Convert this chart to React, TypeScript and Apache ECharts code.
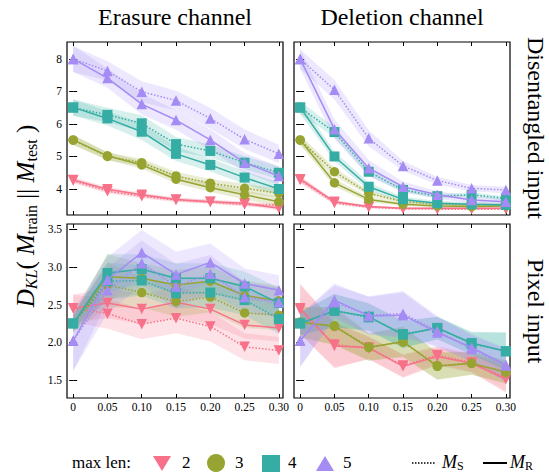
import React, { useEffect, useRef } from 'react';
import * as echarts from 'echarts';

// ---------- data ----------
const X = [0, 0.05, 0.1, 0.15, 0.2, 0.25, 0.3];
const MAX_LENS = ['2', '3', '4', '5'];
const COLORS = ['#f77189', '#97a431', '#36ada4', '#a48cf4'];
const TOP_TICKS = [4, 5, 6, 7, 8];
const BOTTOM_TICKS = [1.5, 2.0, 2.5, 3.0, 3.5];

// Erasure channel, disentangled input  (rows: max len 2,3,4,5)
const eraDisR = [
  [4.28, 3.99, 3.82, 3.68, 3.61, 3.56, 3.41],
  [5.51, 5.02, 4.74, 4.30, 4.04, 3.82, 3.61],
  [6.51, 6.17, 5.76, 5.08, 4.74, 4.35, 4.00],
  [8.0, 7.41, 6.61, 6.12, 5.51, 4.81, 4.40],
];
const eraDisS = [
  [4.26, 3.93, 3.78, 3.66, 3.60, 3.52, 3.50],
  [5.50, 5.00, 4.81, 4.40, 4.18, 4.02, 3.87],
  [6.50, 6.28, 6.02, 5.38, 5.17, 4.81, 4.50],
  [8.0, 7.63, 6.99, 6.72, 6.17, 5.53, 5.08],
];
const eraDisCI = [
  [0.08, 0.07, 0.07, 0.06, 0.06, 0.06, 0.07],
  [0.15, 0.12, 0.12, 0.13, 0.13, 0.14, 0.14],
  [0.25, 0.22, 0.25, 0.22, 0.2, 0.2, 0.2],
  [0.4, 0.3, 0.32, 0.3, 0.32, 0.3, 0.28],
];

// Deletion channel, disentangled input
const delDisR = [
  [4.30, 3.61, 3.46, 3.41, 3.41, 3.41, 3.41],
  [5.51, 4.19, 3.68, 3.53, 3.48, 3.46, 3.48],
  [6.51, 5.00, 4.07, 3.68, 3.56, 3.53, 3.51],
  [8.0, 5.84, 4.64, 4.07, 3.82, 3.66, 3.61],
];
const delDisS = [
  [4.28, 3.57, 3.44, 3.39, 3.38, 3.38, 3.38],
  [5.50, 4.53, 3.87, 3.61, 3.54, 3.51, 3.51],
  [6.50, 5.75, 4.53, 3.97, 3.78, 3.82, 3.71],
  [8.0, 7.05, 5.56, 4.71, 4.26, 4.02, 3.97],
];
const delDisCI = [
  [0.1, 0.05, 0.04, 0.03, 0.03, 0.03, 0.03],
  [0.15, 0.12, 0.08, 0.05, 0.05, 0.05, 0.05],
  [0.2, 0.15, 0.12, 0.08, 0.07, 0.07, 0.07],
  [0.3, 0.3, 0.25, 0.15, 0.12, 0.1, 0.1],
];

// Erasure channel, pixel input
const eraPixR = [
  [2.45, 2.52, 2.44, 2.53, 2.44, 2.23, 2.19],
  [2.25, 2.87, 2.85, 2.76, 2.81, 2.62, 2.55],
  [2.25, 2.92, 2.97, 2.85, 2.85, 2.74, 2.52],
  [2.02, 2.83, 3.19, 2.90, 3.06, 2.78, 2.69],
];
const eraPixS = [
  [2.45, 2.38, 2.24, 2.32, 2.21, 1.94, 1.89],
  [2.25, 2.76, 2.66, 2.54, 2.60, 2.39, 2.36],
  [2.25, 2.81, 2.82, 2.65, 2.66, 2.56, 2.31],
  [2.02, 2.69, 3.05, 2.74, 2.91, 2.60, 2.53],
];
const eraPixCI = [
  [0.18, 0.2, 0.2, 0.2, 0.2, 0.18, 0.18],
  [0.12, 0.3, 0.2, 0.2, 0.2, 0.2, 0.2],
  [0.1, 0.25, 0.2, 0.2, 0.2, 0.2, 0.2],
  [0.4, 0.3, 0.3, 0.3, 0.25, 0.2, 0.2],
];

// Deletion channel, pixel input
const delPixR = [
  [2.45, 1.95, 1.93, 1.68, 1.81, 1.72, 1.51],
  [2.27, 2.21, 1.93, 2.01, 1.68, 1.72, 1.60],
  [2.25, 2.42, 2.34, 2.10, 2.19, 1.99, 1.88],
  [2.02, 2.56, 2.35, 2.36, 2.13, 1.93, 1.70],
];
const delPixS = [
  [2.43, 1.97, 1.92, 1.69, 1.83, 1.73, 1.53],
  [2.26, 2.22, 1.94, 2.0, 1.69, 1.72, 1.61],
  [2.25, 2.42, 2.33, 2.11, 2.19, 1.98, 1.88],
  [2.02, 2.53, 2.36, 2.38, 2.15, 1.91, 1.69],
];
const delPixCI = [
  [0.33, 0.3, 0.15, 0.15, 0.12, 0.12, 0.18],
  [0.2, 0.25, 0.18, 0.2, 0.18, 0.15, 0.15],
  [0.15, 0.22, 0.18, 0.18, 0.15, 0.15, 0.25],
  [0.35, 0.22, 0.25, 0.3, 0.2, 0.18, 0.22],
];

// ---------- helpers ----------
const FONT = '"Liberation Serif", "DejaVu Serif", serif';

function rgba(hex: string, a: number) {
  const n = parseInt(hex.slice(1), 16);
  return `rgba(${(n >> 16) & 255},${(n >> 8) & 255},${n & 255},${a})`;
}

const SYMBOLS = [
  { symbol: 'triangle', size: 10.5, rotate: 180 },
  { symbol: 'circle', size: 9.5, rotate: 0 },
  { symbol: 'rect', size: 10, rotate: 0 },
  { symbol: 'triangle', size: 10.5, rotate: 0 },
];

function bandSeries(gi: number, mean: number[], ci: number[], color: string) {
  const data = X.map((x, i) => [x, mean[i] - ci[i], mean[i] + ci[i]]);
  return {
    type: 'custom',
    xAxisIndex: gi,
    yAxisIndex: gi,
    silent: true,
    z: 1,
    data,
    encode: { x: 0, y: [1, 2] },
    renderItem: (params: any, api: any) => {
      if (params.dataIndex !== 0) return null;
      const up = data.map((d) => api.coord([d[0], d[2]]));
      const dn = data
        .slice()
        .reverse()
        .map((d) => api.coord([d[0], d[1]]));
      return {
        type: 'polygon',
        shape: { points: up.concat(dn) },
        style: { fill: rgba(color, 0.2), stroke: 'none' },
      };
    },
  };
}

function lineSeries(gi: number, vals: number[], k: number, dotted: boolean) {
  const s = SYMBOLS[k];
  return {
    type: 'line',
    xAxisIndex: gi,
    yAxisIndex: gi,
    silent: true,
    z: 3 + k,
    data: X.map((x, i) => [x, vals[i]]),
    symbol: s.symbol,
    symbolSize: s.size,
    symbolRotate: s.rotate,
    showSymbol: true,
    itemStyle: { color: COLORS[k], opacity: 1 },
    lineStyle: {
      color: COLORS[k],
      width: 1.5,
      type: dotted ? [1.5, 1.8] : 'solid',
    },
  };
}

const PANELS = [
  { R: eraDisR, S: eraDisS, CI: eraDisCI },
  { R: delDisR, S: delDisS, CI: delDisCI },
  { R: eraPixR, S: eraPixS, CI: eraPixCI },
  { R: delPixR, S: delPixS, CI: delPixCI },
];

const GRIDS = [
  { left: 67, top: 42, width: 216, height: 173 },
  { left: 294, top: 42, width: 216, height: 173 },
  { left: 67, top: 224, width: 216, height: 174 },
  { left: 294, top: 224, width: 216, height: 174 },
];

function buildOption() {
  const xMain: any[] = [];
  const xTop: any[] = [];
  const yMain: any[] = [];
  const yRight: any[] = [];
  for (let gi = 0; gi < 4; gi++) {
    const isBottom = gi >= 2;
    const xBase = {
      type: 'value',
      gridIndex: gi,
      min: -0.009,
      max: 0.306,
      splitLine: { show: false },
      axisLine: { show: false },
      axisTick: {
        show: true,
        inside: true,
        length: 4,
        customValues: X,
        lineStyle: { color: '#000', width: 1 },
      },
    };
    xMain.push({
      ...xBase,
      position: 'bottom',
      axisLabel: {
        show: isBottom,
        customValues: X,
        formatter: (v: number) => (v === 0 ? '0' : v.toFixed(2)),
        fontFamily: FONT,
        fontSize: 11.5,
        color: '#000',
        margin: 3,
      },
    });
    xTop.push({ ...xBase, position: 'top', axisLabel: { show: false } });

    const ticks = isBottom ? BOTTOM_TICKS : TOP_TICKS;
    const yBase = {
      type: 'value',
      gridIndex: gi,
      min: isBottom ? 1.26 : 3.2,
      max: isBottom ? 3.57 : 8.52,
      splitLine: { show: false },
      axisLine: { show: false },
      axisTick: {
        show: true,
        inside: true,
        length: 4,
        customValues: ticks,
        lineStyle: { color: '#000', width: 1 },
      },
    };
    yMain.push({
      ...yBase,
      position: 'left',
      axisLabel: {
        show: gi % 2 === 0,
        customValues: ticks,
        formatter: (v: number) => (isBottom ? v.toFixed(1) : String(v)),
        fontFamily: FONT,
        fontSize: 11.5,
        color: '#000',
        margin: 5,
      },
    });
    yRight.push({ ...yBase, position: 'right', axisLabel: { show: false } });
  }

  const series: any[] = [];
  PANELS.forEach((p, gi) => {
    for (let k = 0; k < 4; k++) {
      series.push(bandSeries(gi, p.S[k], p.CI[k], COLORS[k]));
      series.push(bandSeries(gi, p.R[k], p.CI[k], COLORS[k]));
    }
    for (let k = 0; k < 4; k++) {
      series.push(lineSeries(gi, p.S[k], k, true));
      series.push(lineSeries(gi, p.R[k], k, false));
    }
  });

  const bigText = (text: string, x: number, y: number, rotation = 0) => ({
    type: 'text',
    x,
    y,
    rotation,
    silent: true,
    style: {
      text,
      x: 0,
      y: 0,
      align: 'center',
      verticalAlign: 'middle',
      fontFamily: FONT,
      fontSize: 24,
      fill: '#000',
    },
  });

  const legendY = 462;
  const legText = (text: string, x: number) => ({
    type: 'text',
    x,
    y: legendY,
    silent: true,
    style: {
      text,
      x: 0,
      y: 0,
      align: 'left',
      verticalAlign: 'middle',
      fontFamily: FONT,
      fontSize: 17,
      fill: '#000',
    },
  });
  const mathLeg = (sub: string, x: number) => ({
    type: 'text',
    x,
    y: legendY,
    silent: true,
    style: {
      text: `{m|M}{s|${sub}}`,
      x: 0,
      y: 0,
      align: 'left',
      verticalAlign: 'middle',
      fill: '#000',
      rich: {
        m: { fontFamily: FONT, fontStyle: 'italic', fontSize: 18, lineHeight: 20, fill: '#000' },
        s: { fontFamily: FONT, fontSize: 12, lineHeight: 12, verticalAlign: 'bottom', fill: '#000' },
      },
    },
  });

  const graphic: any[] = [
    bigText('Erasure channel', 175, 17),
    bigText('Deletion channel', 402, 17),
    bigText('Disentangled input', 536, 128, -Math.PI / 2),
    bigText('Pixel input', 536, 311, -Math.PI / 2),
    {
      type: 'text',
      x: 25,
      y: 216,
      rotation: Math.PI / 2,
      silent: true,
      style: {
        text: '{d|D}{ks|KL}{n|( }{d|M}{s|train}{n| || }{d|M}{s|test}{n| )}',
        x: 0,
        y: 0,
        align: 'center',
        verticalAlign: 'middle',
        fill: '#000',
        rich: {
          d: { fontFamily: FONT, fontStyle: 'italic', fontSize: 25, lineHeight: 28, fill: '#000' },
          n: { fontFamily: FONT, fontSize: 25, lineHeight: 28, fill: '#000' },
          ks: { fontFamily: FONT, fontStyle: 'italic', fontSize: 16, lineHeight: 16, verticalAlign: 'bottom', fill: '#000' },
          s: { fontFamily: FONT, fontSize: 16, lineHeight: 16, verticalAlign: 'bottom', fill: '#000' },
        },
      },
    },
    // legend
    legText('max len:', 72),
    {
      type: 'polygon',
      silent: true,
      shape: { points: [[153, 456], [171, 456], [162, 471]] },
      style: { fill: COLORS[0] },
    },
    legText(MAX_LENS[0], 182),
    { type: 'circle', silent: true, shape: { cx: 216, cy: 463, r: 9 }, style: { fill: COLORS[1] } },
    legText(MAX_LENS[1], 235),
    { type: 'rect', silent: true, shape: { x: 262, y: 455, width: 18, height: 17 }, style: { fill: COLORS[2] } },
    legText(MAX_LENS[2], 288),
    {
      type: 'polygon',
      silent: true,
      shape: { points: [[325, 456], [334, 471], [316, 471]] },
      style: { fill: COLORS[3] },
    },
    legText(MAX_LENS[3], 343),
    {
      type: 'line',
      silent: true,
      shape: { x1: 412, y1: 463, x2: 435, y2: 463 },
      style: { stroke: '#000', lineWidth: 1.5, lineDash: [1.5, 1.5] },
    },
    mathLeg('S', 442),
    {
      type: 'line',
      silent: true,
      shape: { x1: 483, y1: 463, x2: 507, y2: 463 },
      style: { stroke: '#000', lineWidth: 2 },
    },
    mathLeg('R', 510),
  ];

  return {
    animation: false,
    backgroundColor: '#fff',
    textStyle: { fontFamily: FONT },
    grid: GRIDS.map((g) => ({
      ...g,
      show: true,
      borderColor: '#000',
      borderWidth: 1.2,
      backgroundColor: 'transparent',
      containLabel: false,
    })),
    xAxis: [...xMain, ...xTop],
    yAxis: [...yMain, ...yRight],
    series,
    graphic,
  };
}

export default function App() {
  const ref = useRef<HTMLDivElement>(null);
  useEffect(() => {
    if (!ref.current) return;
    const chart = echarts.init(ref.current, undefined, { renderer: 'svg' });
    chart.setOption(buildOption() as any);
    return () => chart.dispose();
  }, []);
  return (
    <div
      ref={ref}
      style={{ position: 'absolute', left: 0, top: 0, width: 549, height: 473 }}
    />
  );
}
